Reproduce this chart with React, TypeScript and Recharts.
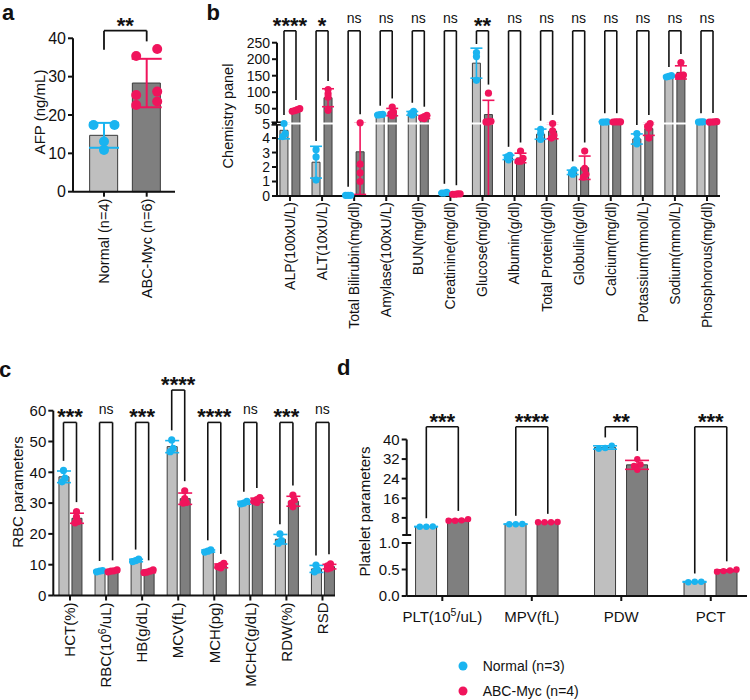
import React from 'react';
import {
  ComposedChart, Bar, Scatter, XAxis, YAxis, ErrorBar, ReferenceLine, ReferenceDot, ReferenceArea, Cell, Legend,
} from 'recharts';

const FONT = '"Liberation Sans", Arial, Helvetica, sans-serif';
const CYAN = '#1ab4f0';
const PINK = '#f0145c';
const LIGHT = '#bfbfbf';
const DARK = '#7f7f7f';
const EDGE = '#3c3c3c';
const INK = '#111111';

// ---------- panel a ----------
const aCategories = ['Normal (n=4)', 'ABC-Myc (n=6)'];
const aNormal = [17.4, 17.4, 13.1, 10.9];
const aAbc = [37.2, 35.4, 26.1, 25.2, 23.5, 22.6];
const aTicks = [0, 10, 20, 30, 40];
const aSig = '**';
const aBracketTop = 42;
const aBracketLegs = [37, 39.2];

// ---------- panel b ----------
const bCategories = [
  'ALP(100xU/L)', 'ALT(10xU/L)', 'Total Bilirubin(mg/dl)', 'Amylase(100xU/L)', 'BUN(mg/dl)',
  'Creatinine(mg/dl)', 'Glucose(mg/dl)', 'Albumin(g/dl)', 'Total Protein(g/dl)', 'Globulin(g/dl)',
  'Calcium(mg/dl)', 'Potassium(mmol/L)', 'Sodium(mmol/L)', 'Phosphorous(mg/dl)',
];
const bNormal = [
  [5.2, 4.3, 4.1], [3.2, 2.7, 1.1], [0.05, 0.05, 0.05], [33, 32, 31], [42, 35, 31],
  [0.25, 0.2, 0.2], [220, 208, 136], [2.8, 2.7, 2.5], [4.6, 4.3, 3.9], [1.8, 1.6, 1.5],
  [10.2, 9.8, 9.6], [4.3, 3.9, 3.6], [150, 148, 146], [10.5, 10, 9.5],
];
const bAbc = [
  [50, 47, 44, 42], [108, 95, 85, 45], [7.4, 2.2, 1.6, 1.0], [55, 40, 35, 29], [30, 26, 22, 20],
  [0.15, 0.15, 0.12, 0.12], [97, 12, 10, 10], [3.1, 2.6, 2.4, 2.4], [5.2, 4.5, 4.2, 4.0], [3.1, 1.9, 1.5, 1.3],
  [10.3, 10.1, 9.9, 9.7], [5.1, 4.8, 4.7, 4.0], [190, 152, 150, 148], [10.6, 10.2, 9.8, 9.6],
];
const bSig = ['****', '*', 'ns', 'ns', 'ns', 'ns', '**', 'ns', 'ns', 'ns', 'ns', 'ns', 'ns', 'ns'];
const bTicks = [0, 1, 2, 3, 4, 5, 50, 100, 150, 200, 250];
const bBracketLevel = 286;

// ---------- panel c ----------
const cCategories = ['HCT(%)', 'RBC(10⁶/uL)', 'HB(g/dL)', 'MCV(fL)', 'MCH(pg)', 'MCHC(g/dL)', 'RDW(%)', 'RSD'];
const cNormal = [
  [40.6, 38.1, 36.9], [8.1, 7.9, 7.7], [11.8, 11.3, 11.0], [50.5, 47.8, 46.7],
  [14.8, 14.4, 14.1], [30.6, 30.0, 29.7], [20.0, 17.8, 17.0], [9.9, 8.3, 7.7],
];
const cAbc = [
  [27.2, 25.5, 24.0, 23.6], [8.3, 8.0, 7.9, 7.7], [8.3, 7.9, 7.6, 7.4], [34.0, 31.5, 30.2, 30.0],
  [10.4, 9.8, 9.3, 9.0], [31.8, 31.1, 30.6, 30.2], [32.6, 31.0, 30.0, 28.8], [10.3, 9.6, 9.0, 8.6],
];
const cSig = ['***', 'ns', '***', '****', '****', 'ns', '***', 'ns'];
const cTicks = [0, 10, 20, 30, 40, 50, 60];
const cBracketTop = [56.2, 56.2, 56.2, 66.7, 56.2, 56.2, 56.2, 56.2];

// ---------- panel d ----------
const dCategories = ['PLT(10⁵/uL)', 'MPV(fL)', 'PDW', 'PCT'];
const dNormal = [[4.5, 4.4, 4.4], [5.5, 5.4, 5.4], [37.5, 36.5, 36.2], [0.27, 0.27, 0.26]];
const dAbc = [[7.5, 7.0, 6.8, 6.8], [6.3, 6.2, 6.2, 6.2], [32.0, 29.8, 29.2, 27.6], [0.50, 0.48, 0.46, 0.47]];
const dSig = ['***', '****', '**', '***'];
const dTicks = [0, 0.5, 1, 8, 16, 24, 32, 40];
const dBracketLevel = 45.2;

const seriesNames = ['Normal (n=3)', 'ABC-Myc (n=4)'];

// ---------- axis transforms (broken axes) ----------
const tfLin = (v: number) => v;
const tfB = (v: number) => (v <= 5 ? v : 5 + (v - 5) * 0.02278);
const tfD = (v: number) => (v <= 1 ? v : 1.151 + (v - 1) * 0.04623);

// ---------- helpers ----------
const mean = (a: number[]) => a.reduce((s, v) => s + v, 0) / a.length;
const sd = (a: number[]) => {
  const m = mean(a);
  return Math.sqrt(a.reduce((s, v) => s + (v - m) ** 2, 0) / (a.length - 1));
};
const errPair = (tf: (v: number) => number, m: number, s: number) => [
  tf(m) - tf(Math.max(0, m - s)),
  tf(m + s) - tf(m),
];

function swarm(vals: number[], tf: (v: number) => number, pxT: number, minDist: number, step: number) {
  const idx = vals.map((_, i) => i).sort((a, b) => vals[b] - vals[a]);
  const offs = new Array(vals.length).fill(0);
  let row: number[] = [];
  const flush = () => {
    const sorted = [...row].sort((a, b) => vals[a] - vals[b]);
    sorted.forEach((k, j) => { offs[k] = (j - (sorted.length - 1) / 2) * step; });
  };
  idx.forEach((k) => {
    if (row.length && (tf(vals[row[0]]) - tf(vals[k])) * pxT < minDist) row.push(k);
    else { if (row.length) flush(); row = [k]; }
  });
  if (row.length) flush();
  return offs;
}

const SUP: Record<string, string> = { '⁰': '0', '¹': '1', '²': '2', '³': '3', '⁴': '4', '⁵': '5', '⁶': '6', '⁷': '7', '⁸': '8', '⁹': '9' };
function rich(s: string, fs: number) {
  const out: any[] = [];
  let raised = false;
  let key = 0;
  const push = (text: string, sup: boolean) => {
    if (!text) return;
    let dy = 0;
    if (sup && !raised) dy = -fs * 0.38;
    if (!sup && raised) dy = fs * 0.38;
    out.push(<tspan key={key++} dy={dy || undefined} fontSize={sup ? fs * 0.7 : undefined}>{text}</tspan>);
    raised = sup;
  };
  let cur = '';
  let curSup = false;
  for (const ch of Array.from(s)) {
    const isSup = ch in SUP;
    if (cur && isSup !== curSup) { push(cur, curSup); cur = ''; }
    cur += isSup ? SUP[ch] : ch;
    curSup = isSup;
  }
  push(cur, curSup);
  return out;
}

const axisLineStyle = { stroke: INK, strokeWidth: 2 };
const tickLineStyle = { stroke: INK, strokeWidth: 2 };

const dotShape = (r: number, fill: string) => (p: any) => <circle cx={p.cx} cy={p.cy} r={r} fill={fill} />;

const sigLabel = (text: string) => (p: any) => {
  const star = text.includes('*');
  return (
    <text x={p.cx} y={p.cy + (star ? 2 : -8)} textAnchor="middle" fontSize={star ? 22 : 14}
      fontWeight={star ? 700 : 400} fill={INK}>{text}</text>
  );
};

const LegendBox = (props: any) => {
  const items = (props.payload || [])
    .filter((e: any) => e.type !== 'none' && seriesNames.includes(e.value))
    .sort((p: any, q: any) => seriesNames.indexOf(p.value) - seriesNames.indexOf(q.value));
  return (
    <div style={{ fontFamily: FONT }}>
      {items.map((e: any, k: number) => (
        <div key={k} style={{ display: 'flex', alignItems: 'center', height: 25 }}>
          <svg width={10} height={10} style={{ marginRight: 15 }}><circle cx={5} cy={5} r={4.5} fill={e.color} /></svg>
          <span style={{ fontSize: 14, color: INK }}>{e.value}</span>
        </div>
      ))}
    </div>
  );
};

// ---------- generic paired panel ----------
type Cfg = {
  left: number; top: number; width: number; height: number;
  mTop: number; mRight: number; yAxisWidth: number; xAxisHeight: number;
  xLo: number; xHi: number; tMax: number; tf: (v: number) => number;
  yTicks: number[]; yFmt: (v: number) => string; yFont: number;
  cats: string[]; catFont: number; rotated: boolean; catDy: number;
  normal: number[][]; abc: number[][]; sig: string[]; bracketTop: number[];
  barSize: number; barGap: number; r: number; swarmMin: number; swarmStep: number; legGap: number; capWidth: number;
  yLabel: string; yLabelX: number; yLabelY: number; yLabelFont: number;
  axisBreak?: 'b' | 'd'; legend?: boolean;
};

function PairPanel(c: Cfg) {
  const plotW = c.width - c.mRight - c.yAxisWidth;
  const plotH = c.height - c.mTop - c.xAxisHeight;
  const pxX = plotW / (c.xHi - c.xLo);
  const pxT = plotH / c.tMax;
  const off = (c.barSize + c.barGap) / 2 / pxX;

  const rows = c.cats.map((_, i) => {
    const mN = mean(c.normal[i]);
    const mA = mean(c.abc[i]);
    return {
      x: i, n: c.tf(mN), a: c.tf(mA),
      nErr: errPair(c.tf, mN, sd(c.normal[i])), aErr: errPair(c.tf, mA, sd(c.abc[i])),
    };
  });
  const ptsN: any[] = [];
  const ptsA: any[] = [];
  c.cats.forEach((_, i) => {
    const oN = swarm(c.normal[i], c.tf, pxT, c.swarmMin, c.swarmStep);
    c.normal[i].forEach((v, k) => ptsN.push({ x: i - off + oN[k] / pxX, y: c.tf(v) }));
    const oA = swarm(c.abc[i], c.tf, pxT, c.swarmMin, c.swarmStep);
    c.abc[i].forEach((v, k) => ptsA.push({ x: i + off + oA[k] / pxX, y: c.tf(v) }));
  });

  const tTicks = c.yTicks.map(c.tf);
  const fmt = (t: number) => {
    const v = c.yTicks.find((q) => Math.abs(c.tf(q) - t) < 1e-6);
    return v === undefined ? '' : c.yFmt(v);
  };

  const catTick = (p: any) => {
    const label = c.cats[p.payload.value] ?? '';
    if (c.rotated) {
      return (
        <g transform={`translate(${p.x},${p.y + c.catDy})`}>
          <text transform="rotate(-90)" textAnchor="end" dy="0.35em" fontSize={c.catFont} fill={INK}>{rich(label, c.catFont)}</text>
        </g>
      );
    }
    return (
      <text x={p.x} y={p.y} dy={c.catDy} textAnchor="middle" fontSize={c.catFont} fill={INK}>{rich(label, c.catFont)}</text>
    );
  };

  const brackets: any[] = [];
  c.cats.forEach((_, i) => {
    const xn = i - off;
    const xa = i + off;
    const top = c.tf(c.bracketTop[i]);
    const legN = Math.min(top - 4 / pxT, c.tf(Math.max(...c.normal[i])) + (c.r + c.legGap) / pxT);
    const legA = Math.min(top - 4 / pxT, c.tf(Math.max(...c.abc[i])) + (c.r + c.legGap) / pxT);
    const common = { stroke: INK, strokeWidth: 1.6, ifOverflow: 'visible' as const };
    brackets.push(<ReferenceLine key={`bl${i}`} {...common} segment={[{ x: xn, y: legN }, { x: xn, y: top }]} />);
    brackets.push(<ReferenceLine key={`bt${i}`} {...common} segment={[{ x: xn, y: top }, { x: xa, y: top }]} />);
    brackets.push(<ReferenceLine key={`br${i}`} {...common} segment={[{ x: xa, y: top }, { x: xa, y: legA }]} />);
    brackets.push(<ReferenceDot key={`bs${i}`} x={i} y={top} r={0} ifOverflow="visible" shape={sigLabel(c.sig[i])} />);
  });

  const breaks: any[] = [];
  if (c.axisBreak === 'b') {
    const g = 0.09;
    const w1 = 5.5 / pxX;
    const w2 = 4.5 / pxX;
    breaks.push(<ReferenceLine key="wl" y={5} stroke="#ffffff" strokeWidth={2} />);
    breaks.push(<ReferenceLine key="ax1" segment={[{ x: c.xLo, y: 0 }, { x: c.xLo, y: 5 - g }]} stroke={INK} strokeWidth={2} ifOverflow="visible" />);
    breaks.push(<ReferenceLine key="ax2" segment={[{ x: c.xLo, y: 5 + g }, { x: c.xLo, y: c.tMax }]} stroke={INK} strokeWidth={2} ifOverflow="visible" />);
    breaks.push(<ReferenceLine key="bm1" segment={[{ x: c.xLo - w1, y: 5 - g }, { x: c.xLo + w2, y: 5 - g }]} stroke={INK} strokeWidth={1.6} ifOverflow="visible" />);
    breaks.push(<ReferenceLine key="bm2" segment={[{ x: c.xLo - w1, y: 5 + g }, { x: c.xLo + w2, y: 5 + g }]} stroke={INK} strokeWidth={1.6} ifOverflow="visible" />);
  }
  if (c.axisBreak === 'd') {
    const lo = 1;
    const hi = c.tf(1.0001);
    const w = 4.5 / pxX;
    breaks.push(<ReferenceArea key="wa" y1={1.03} y2={1.13} fill="#ffffff" fillOpacity={1} stroke="none" />);
    breaks.push(<ReferenceLine key="ax1" segment={[{ x: c.xLo, y: 0 }, { x: c.xLo, y: lo }]} stroke={INK} strokeWidth={2} ifOverflow="visible" />);
    breaks.push(<ReferenceLine key="ax2" segment={[{ x: c.xLo, y: hi }, { x: c.xLo, y: c.tMax }]} stroke={INK} strokeWidth={2} ifOverflow="visible" />);
    breaks.push(<ReferenceLine key="bm1" segment={[{ x: c.xLo - w, y: lo }, { x: c.xLo + w, y: lo }]} stroke={INK} strokeWidth={2} ifOverflow="visible" />);
    breaks.push(<ReferenceLine key="bm2" segment={[{ x: c.xLo - w, y: hi }, { x: c.xLo + w, y: hi }]} stroke={INK} strokeWidth={2} ifOverflow="visible" />);
  }

  return (
    <div style={{ position: 'absolute', left: c.left, top: c.top }}>
      <ComposedChart width={c.width} height={c.height} data={rows}
        margin={{ top: c.mTop, right: c.mRight, bottom: 0, left: 0 }} barGap={c.barGap}>
        <XAxis type="number" dataKey="x" domain={[c.xLo, c.xHi]} ticks={c.cats.map((_, i) => i)} interval={0}
          height={c.xAxisHeight} axisLine={axisLineStyle} tickLine={tickLineStyle} tickSize={5} tick={catTick} />
        <XAxis xAxisId="s" type="number" dataKey="x" domain={[c.xLo, c.xHi]} hide />
        <YAxis type="number" domain={[0, c.tMax]} ticks={tTicks} interval={0} tickFormatter={fmt}
          width={c.yAxisWidth} axisLine={c.axisBreak ? false : axisLineStyle} tickLine={tickLineStyle} tickSize={5}
          tick={{ fontSize: c.yFont, fill: INK }}
          label={{
            content: () => (
              <text x={c.yLabelX} y={c.yLabelY} transform={`rotate(-90 ${c.yLabelX} ${c.yLabelY})`} textAnchor="middle"
                dominantBaseline="central" fontSize={c.yLabelFont} fill={INK}>{c.yLabel}</text>
            ),
          }} />
        <Bar dataKey="n" barSize={c.barSize} fill={LIGHT} stroke={EDGE} strokeWidth={1} isAnimationActive={false} legendType="none">
          <ErrorBar dataKey="nErr" width={c.capWidth} stroke={CYAN} strokeWidth={1.6} />
        </Bar>
        <Bar dataKey="a" barSize={c.barSize} fill={DARK} stroke={EDGE} strokeWidth={1} isAnimationActive={false} legendType="none">
          <ErrorBar dataKey="aErr" width={c.capWidth} stroke={PINK} strokeWidth={1.6} />
        </Bar>
        {breaks}
        <Scatter xAxisId="s" name={seriesNames[0]} data={ptsN} dataKey="y" fill={CYAN} shape={dotShape(c.r, CYAN)} isAnimationActive={false} />
        <Scatter xAxisId="s" name={seriesNames[1]} data={ptsA} dataKey="y" fill={PINK} shape={dotShape(c.r, PINK)} isAnimationActive={false} />
        {brackets}
        {c.legend && (
          <Legend layout="vertical" align="center" verticalAlign="middle" content={<LegendBox />}
            wrapperStyle={{ top: 293.5, left: 107.7, width: 200 }} />
        )}
      </ComposedChart>
    </div>
  );
}

// ---------- panel a ----------
function PanelA() {
  const W = 200, H = 310, mTop = 38.3, mRight = 25, yW = 73, xH = 118.3;
  const xLo = -0.726, xHi = 1.663, tMax = 40;
  const pxX = (W - mRight - yW) / (xHi - xLo);
  const pxT = (H - mTop - xH) / tMax;
  const r = 5;
  const groups = [aNormal, aAbc];
  const colors = [CYAN, PINK];
  const rows = groups.map((g, i) => ({ x: i, v: mean(g) }));
  const means = groups.map((g, i) => [{ x: i, y: mean(g), e: sd(g) }]);
  const pts = groups.map((g, i) => {
    const o = swarm(g, tfLin, pxT, 8, 21);
    return g.map((v, k) => ({ x: i + o[k] / pxX, y: v }));
  });
  const catTick = (p: any) => (
    <g transform={`translate(${p.x},${p.y})`}>
      <text transform="rotate(-90)" textAnchor="end" dy="0.35em" fontSize={14.5} fill={INK}>{aCategories[p.payload.value] ?? ''}</text>
    </g>
  );
  const common = { stroke: INK, strokeWidth: 1.8, ifOverflow: 'visible' as const };
  return (
    <div style={{ position: 'absolute', left: 0, top: 0 }}>
      <ComposedChart width={W} height={H} data={rows} margin={{ top: mTop, right: mRight, bottom: 0, left: 0 }}>
        <XAxis type="number" dataKey="x" domain={[xLo, xHi]} ticks={[0, 1]} interval={0} height={xH}
          axisLine={axisLineStyle} tickLine={tickLineStyle} tickSize={5} tick={catTick} />
        <XAxis xAxisId="s" type="number" dataKey="x" domain={[xLo, xHi]} hide />
        <YAxis type="number" domain={[0, tMax]} ticks={aTicks} interval={0} width={yW}
          axisLine={axisLineStyle} tickLine={tickLineStyle} tickSize={5} tick={{ fontSize: 16, fill: INK }}
          label={{
            content: () => (
              <text x={39} y={112} transform="rotate(-90 39 112)" textAnchor="middle" dominantBaseline="central"
                fontSize={15} fill={INK}>AFP (ng/mL)</text>
            ),
          }} />
        <Bar dataKey="v" barSize={28} stroke={EDGE} strokeWidth={1} isAnimationActive={false} legendType="none">
          {rows.map((_, i) => <Cell key={i} fill={i === 0 ? LIGHT : DARK} />)}
        </Bar>
        {groups.map((_, i) => (
          <Scatter xAxisId="s" key={`p${i}`} data={pts[i]} dataKey="y" fill={colors[i]} shape={dotShape(r, colors[i])} isAnimationActive={false} legendType="none" />
        ))}
        {groups.map((_, i) => (
          <Scatter xAxisId="s" key={`m${i}`} data={means[i]} dataKey="y" fill={colors[i]} shape={() => <g />} isAnimationActive={false} legendType="none">
            <ErrorBar dataKey="e" direction="y" width={15} stroke={colors[i]} strokeWidth={2} />
          </Scatter>
        ))}
        <ReferenceLine {...common} segment={[{ x: 0, y: aBracketLegs[0] }, { x: 0, y: aBracketTop }]} />
        <ReferenceLine {...common} segment={[{ x: 0, y: aBracketTop }, { x: 1, y: aBracketTop }]} />
        <ReferenceLine {...common} segment={[{ x: 1, y: aBracketTop }, { x: 1, y: aBracketLegs[1] }]} />
        <ReferenceDot x={0.5} y={aBracketTop} r={0} ifOverflow="visible" shape={sigLabel(aSig)} />
      </ComposedChart>
    </div>
  );
}

const Letter = ({ ch, left, top }: { ch: string; left: number; top: number }) => (
  <div style={{ position: 'absolute', left, top, fontSize: 22, fontWeight: 700, lineHeight: '25px', color: INK }}>{ch}</div>
);

export default function App() {
  const bCfg: Cfg = {
    left: 200, top: 0, width: 550, height: 360, mTop: 42.7, mRight: 30, yAxisWidth: 77, xAxisHeight: 164,
    xLo: -0.405, xHi: 13.405, tMax: tfB(250), tf: tfB, yTicks: bTicks, yFmt: (v) => String(v), yFont: 14,
    cats: bCategories, catFont: 14, rotated: true, catDy: -1, normal: bNormal, abc: bAbc, sig: bSig,
    bracketTop: bCategories.map(() => bBracketLevel),
    barSize: 8, barGap: 4, r: 3.6, swarmMin: 3, swarmStep: 2.5, legGap: 5, capWidth: 6,
    yLabel: 'Chemistry panel', yLabelX: 27.5, yLabelY: 116, yLabelFont: 14.5, axisBreak: 'b',
  };
  const cCfg: Cfg = {
    left: 0, top: 360, width: 360, height: 340, mTop: 50.7, mRight: 25, yAxisWidth: 53.3, xAxisHeight: 104.5,
    xLo: -0.463, xHi: 7.347, tMax: 60, tf: tfLin, yTicks: cTicks, yFmt: (v) => String(v), yFont: 15,
    cats: cCategories, catFont: 15, rotated: true, catDy: 0, normal: cNormal, abc: cAbc, sig: cSig, bracketTop: cBracketTop,
    barSize: 10, barGap: 3, r: 3.6, swarmMin: 4, swarmStep: 3, legGap: 6, capWidth: 7,
    yLabel: 'RBC parameters', yLabelX: 17, yLabelY: 132, yLabelFont: 15,
  };
  const dCfg: Cfg = {
    left: 350, top: 360, width: 400, height: 340, mTop: 79.5, mRight: 3, yAxisWidth: 56.7, xAxisHeight: 104,
    xLo: -0.398, xHi: 3.405, tMax: tfD(40), tf: tfD, yTicks: dTicks,
    yFmt: (v) => (v <= 1 ? v.toFixed(1) : String(v)), yFont: 15,
    cats: dCategories, catFont: 15, rotated: false, catDy: 19, normal: dNormal, abc: dAbc, sig: dSig,
    bracketTop: dCategories.map(() => dBracketLevel),
    barSize: 21, barGap: 11, r: 3.2, swarmMin: 4, swarmStep: 6.5, legGap: 5, capWidth: 12,
    yLabel: 'Platelet parameters', yLabelX: 14, yLabelY: 151.5, yLabelFont: 15, axisBreak: 'd', legend: true,
  };
  return (
    <div style={{ position: 'absolute', left: 0, top: 0, width: 750, height: 700, background: '#fff', fontFamily: FONT, overflow: 'hidden' }}>
      <PanelA />
      <PairPanel {...bCfg} />
      <PairPanel {...cCfg} />
      <PairPanel {...dCfg} />
      <Letter ch="a" left={2} top={0} />
      <Letter ch="b" left={206.5} top={0} />
      <Letter ch="c" left={-1} top={356.6} />
      <Letter ch="d" left={337} top={355} />
    </div>
  );
}
